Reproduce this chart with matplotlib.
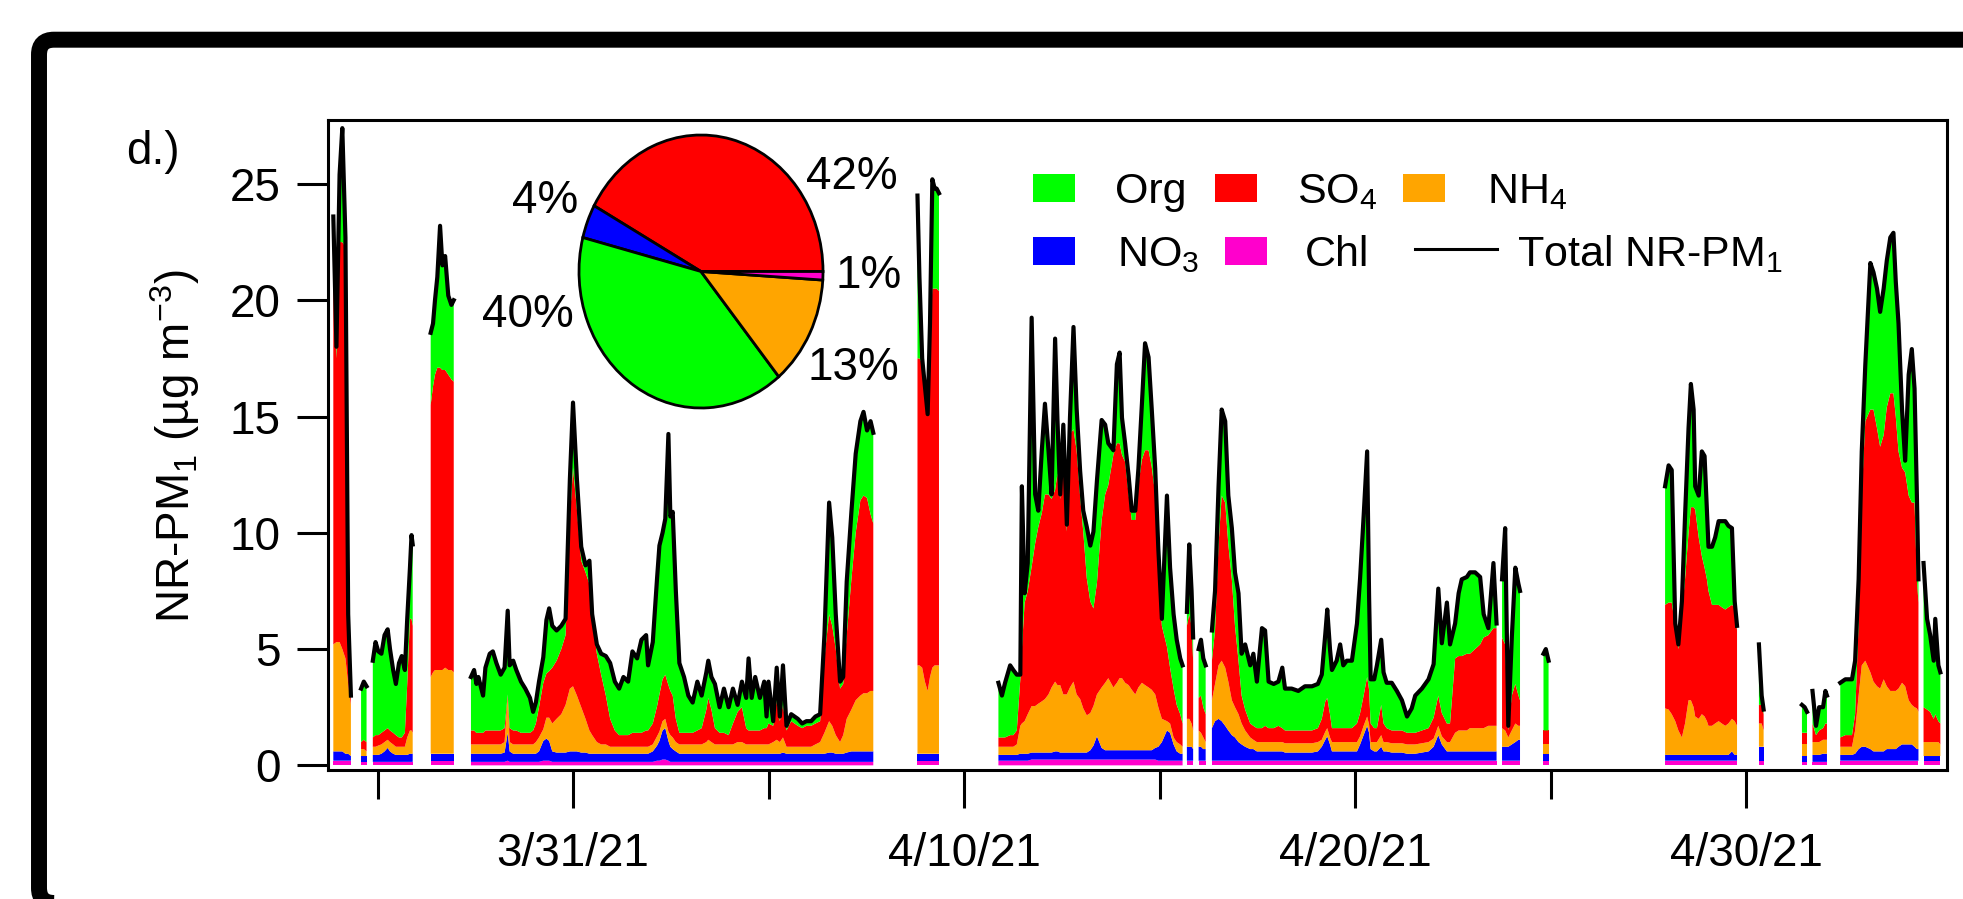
import numpy as np
import matplotlib
matplotlib.use('Agg')
import matplotlib.pyplot as plt
import matplotlib.dates as mdates
from matplotlib.patches import Rectangle, FancyBboxPatch
from matplotlib.lines import Line2D
from datetime import datetime

plt.rcParams['font.family'] = ['Liberation Sans', 'DejaVu Sans']
plt.rcParams['mathtext.fontset'] = 'custom'
plt.rcParams['mathtext.rm'] = 'Liberation Sans'
plt.rcParams['mathtext.it'] = 'Liberation Sans:italic'
plt.rcParams['mathtext.bf'] = 'Liberation Sans:bold'

# ---- data (days after 2021-03-24 00:00, ug m-3), one sub-list per run of valid data ----
start = datetime(2021, 3, 24)

time_d = [
    [0.87, 0.95, 1.03, 1.10, 1.18, 1.25, 1.32],
    [1.58, 1.65, 1.72],
    [1.88, 1.95, 2.02, 2.10, 2.18, 2.26, 2.32, 2.40, 2.47, 2.55, 2.62, 2.70, 2.76, 2.83, 2.87, 2.90],
    [3.36, 3.42, 3.47, 3.53, 3.60, 3.66, 3.73, 3.81, 3.89, 3.95],
    [4.39, 4.47, 4.53, 4.58, 4.70, 4.76, 4.87, 4.95, 5.04, 5.15,
     5.25, 5.33, 5.38, 5.47, 5.55, 5.67, 5.78, 5.90, 5.98, 6.05,
     6.13, 6.24, 6.32, 6.39, 6.47, 6.58, 6.70, 6.81, 6.92, 7.00,
     7.10, 7.21, 7.32, 7.42, 7.49, 7.61, 7.72, 7.84, 7.95, 8.07,
     8.18, 8.29, 8.41, 8.52, 8.64, 8.75, 8.87, 8.92, 9.04, 9.15,
     9.21, 9.29, 9.36, 9.44, 9.49, 9.55, 9.63, 9.72, 9.84, 9.95,
     10.06, 10.18, 10.29, 10.41, 10.46, 10.54, 10.63, 10.75, 10.86, 10.98,
     11.09, 11.21, 11.32, 11.43, 11.49, 11.57, 11.66, 11.78, 11.89, 11.95,
     12.00, 12.12, 12.21, 12.29, 12.37, 12.46, 12.58, 12.75, 12.86, 12.97,
     13.09, 13.20, 13.32, 13.43, 13.55, 13.63, 13.72, 13.83, 13.91, 14.00,
     14.12, 14.23, 14.35, 14.43, 14.52, 14.61, 14.68],
    [15.81, 15.86, 15.93, 16.00, 16.07, 16.13, 16.19, 16.25, 16.30, 16.36],
    [17.88, 17.97, 18.05, 18.18, 18.26, 18.35, 18.44, 18.48, 18.55, 18.63,
     18.73, 18.82, 18.90, 18.99, 19.07, 19.16, 19.24, 19.33, 19.39, 19.46,
     19.54, 19.63, 19.71, 19.80, 19.88, 19.97, 20.05, 20.14, 20.23, 20.31,
     20.40, 20.52, 20.61, 20.69, 20.82, 20.91, 20.98, 21.04, 21.12, 21.21,
     21.29, 21.38, 21.46, 21.55, 21.63, 21.72, 21.80, 21.89, 21.97, 22.06,
     22.19, 22.27, 22.36, 22.44, 22.53, 22.59],
    [22.70, 22.76, 22.82, 22.86],
    [23.00, 23.06, 23.12, 23.18],
    [23.34, 23.42, 23.51, 23.59, 23.68, 23.76, 23.85, 23.93, 24.02, 24.10,
     24.19, 24.32, 24.40, 24.49, 24.62, 24.70, 24.79, 24.92, 25.04, 25.14,
     25.21, 25.38, 25.55, 25.72, 25.90, 26.05, 26.15, 26.24, 26.29, 26.36,
     26.41, 26.53, 26.62, 26.70, 26.79, 26.92, 27.05, 27.13, 27.22, 27.31,
     27.36, 27.40, 27.49, 27.56, 27.67, 27.73, 27.81, 27.94, 28.07, 28.20,
     28.33, 28.45, 28.54, 28.71, 28.88, 29.01, 29.13, 29.22, 29.35, 29.43,
     29.56, 29.65, 29.73, 29.86, 29.94, 30.07, 30.20, 30.29, 30.41, 30.54,
     30.62],
    [30.76, 30.84, 30.92, 31.01, 31.10, 31.18, 31.22],
    [31.82, 31.88, 31.95],
    [34.93, 35.02, 35.10, 35.19, 35.27, 35.36, 35.44, 35.53, 35.59, 35.66,
     35.70, 35.79, 35.87, 35.94, 36.00, 36.04, 36.13, 36.21, 36.30, 36.38,
     36.47, 36.55, 36.64, 36.71, 36.77],
    [37.33, 37.40, 37.45],
    [38.43, 38.50, 38.56],
    [38.70, 38.79, 38.87, 38.97, 39.03, 39.07],
    [39.41, 39.54, 39.71, 39.79, 39.88, 39.96, 40.05, 40.18, 40.26, 40.35,
     40.43, 40.52, 40.60, 40.69, 40.77, 40.83, 40.90, 40.99, 41.07, 41.16,
     41.24, 41.31, 41.37, 41.41],
    [41.54, 41.63, 41.71, 41.80, 41.84, 41.92, 41.97],
]

org = [
    [1.6, 0.5, 2.9, 4.9, 0.4, 0.5, 0.2],
    [2.3, 2.5, 2.4],
    [3.3, 4.0, 3.6, 3.4, 4.1, 4.25, 3.5, 2.7, 2.2, 3.2, 3.5, 2.7, 2.8, 2.2, 3.6, 3.5],
    [3.1, 2.7, 3.2, 3.9, 6.1, 4.5, 4.9, 3.4, 3.2, 3.5],
    [2.3, 2.6, 2.1, 2.4, 1.6, 2.7, 3.3, 3.4, 2.9, 2.4,
     2.6, 3.6, 2.7, 3.0, 2.6, 2.2, 1.9, 1.5, 0.8, 0.9,
     1.1, 1.1, 2.3, 2.7, 1.8, 1.3, 1.0, 0.7, 1.8, 2.8,
     1.3, 0.6, 0.3, 1.0, 0.2, 0.4, 0.9, 1.7, 2.4, 2.1,
     2.0, 2.5, 2.3, 3.5, 3.2, 4.0, 4.1, 2.8, 3.5, 5.5,
     6.4, 6.3, 6.7, 10.8, 7.5, 7.9, 5.5, 3.0, 2.4, 1.6,
     1.3, 2.1, 1.4, 1.6, 1.6, 1.4, 1.9, 1.1, 1.9, 1.2,
     1.5, 0.3, 1.1, 1.3, 3.1, 1.4, 2.3, 1.4, 2.0, 0.5,
     1.8, 0.2, 1.4, 0.2, 1.7, 0.2, 0.3, 0.3, 0.2, 0.2,
     0.2, 0.3, 0.3, 1.0, 4.8, 3.8, 1.5, 0.3, 0.3, 2.3,
     2.9, 3.4, 3.4, 3.6, 2.9, 4.0, 3.9],
    [7.0, 3.5, 0.2, 0.3, 0.1, 0.5, 4.7, 4.3, 4.3, 4.2],
    [2.35, 1.8, 2.35, 3.0, 2.8, 2.4, 0.2, 7.0, 0.4, 1.2,
     10.7, 2.1, 0.7, 2.7, 3.9, 1.9, 0.2, 6.5, 2.3, 0.2,
     1.1, 0.3, 0.7, 4.4, 1.8, 1.1, 0.9, 2.2, 2.4, 3.3,
     4.4, 4.3, 3.0, 1.8, 0.2, 3.4, 3.9, 1.6, 0.8, 0.8,
     0.4, 0.4, 0.7, 2.4, 4.6, 4.0, 2.5, 1.1, 0.3, 0.3,
     6.5, 4.3, 3.2, 2.8, 2.4, 2.5],
    [0.6, 3.0, 1.5, 1.0],
    [2.1, 2.4, 2.1, 2.1],
    [1.3, 1.7, 2.5, 3.7, 3.5, 2.1, 2.2, 2.3, 2.9, 1.8,
     2.8, 2.5, 3.1, 2.0, 4.3, 4.1, 2.0, 1.9, 1.9, 2.6,
     1.8, 1.8, 1.7, 1.9, 1.9, 1.9, 1.9, 2.9, 3.8, 2.8,
     2.5, 2.9, 3.6, 2.7, 2.9, 2.9, 4.3, 5.8, 7.7, 9.7,
     4.0, 1.9, 2.1, 2.7, 2.8, 2.2, 1.95, 2.05, 1.7, 1.3,
     0.7, 1.05, 1.6, 1.8, 2.1, 2.3, 4.6, 3.0, 5.2, 3.4,
     1.5, 2.7, 3.3, 3.3, 3.5, 3.3, 2.9, 1.0, 0.3, 2.8,
     0.2],
    [2.5, 5.0, 0.2, 2.5, 5.0, 4.8, 4.7],
    [3.3, 3.5, 3.0],
    [5.1, 5.9, 5.7, 0.1, 0.2, 0.55, 2.7, 4.5, 5.3, 4.2,
     1.0, 1.8, 4.5, 4.8, 2.9, 1.9, 2.5, 2.9, 3.6, 3.7,
     3.8, 3.5, 3.3, 0.25, 0.2],
    [2.6, 0.4, 0.2],
    [1.2, 1.1, 0.9],
    [1.4, 0.4, 1.0, 0.9, 1.4, 1.2],
    [2.35, 2.4, 2.4, 2.3, 1.9, 1.9, 2.4, 6.3, 5.9, 6.0,
     5.8, 6.3, 6.3, 6.7, 6.9, 5.8, 5.5, 2.5, 0.5, 5.2,
     6.6, 4.9, 3.6, 1.0],
    [6.2, 3.9, 3.3, 2.5, 4.1, 2.4, 2.2],
]

so4 = [
    [16.8, 12.2, 17.2, 17.5, 17.7, 2.5, 0.2],
    [0.3, 0.4, 0.4],
    [0.4, 0.5, 0.45, 0.5, 0.5, 0.5, 0.5, 0.5, 0.5, 0.4, 0.4, 0.6, 2.3, 4.8, 4.8, 4.6],
    [11.7, 12.3, 12.7, 13.0, 13.0, 12.9, 12.8, 12.7, 12.5, 12.5],
    [0.6, 0.6, 0.5, 0.5, 0.5, 0.6, 0.6, 0.6, 0.6, 0.6,
     0.6, 0.1, 0.6, 0.6, 0.6, 0.5, 0.5, 0.5, 0.6, 0.8,
     1.3, 2.0, 1.9, 2.0, 2.4, 2.5, 2.8, 3.0, 7.2, 9.4,
     8.0, 6.3, 6.3, 6.3, 5.0, 3.8, 3.0, 2.1, 1.2, 0.7,
     0.5, 0.5, 0.5, 0.6, 0.6, 0.6, 0.7, 0.7, 0.9, 1.3,
     1.6, 1.8, 1.9, 2.0, 1.9, 1.8, 1.0, 0.5, 0.5, 0.5,
     0.5, 0.6, 0.7, 1.4, 1.8, 1.4, 0.7, 0.5, 0.5, 0.4,
     0.9, 1.3, 1.5, 0.7, 0.6, 0.6, 0.6, 0.6, 0.7, 0.7,
     0.9, 0.7, 1.7, 0.9, 1.4, 0.7, 1.1, 0.9, 0.8, 0.9,
     0.9, 0.9, 0.9, 3.2, 4.6, 4.3, 3.7, 2.3, 2.2, 3.6,
     5.6, 7.2, 8.4, 8.5, 8.4, 7.6, 7.2],
    [13.2, 13.2, 13.1, 12.4, 11.8, 14.7, 16.3, 16.2, 16.2, 16.1],
    [0.4, 0.4, 0.4, 0.5, 0.5, 0.6, 2.0, 3.2, 5.1, 5.3,
     6.0, 7.0, 7.6, 8.1, 8.8, 8.6, 8.1, 8.25, 9.1, 8.0,
     10.5, 7.0, 10.9, 10.85, 10.5, 8.7, 7.6, 5.9, 4.8, 4.2,
     4.8, 7.2, 8.1, 8.3, 10.0, 10.3, 10.1, 9.6, 9.5, 8.2,
     7.3, 7.5, 8.7, 9.6, 10.1, 10.2, 9.6, 8.6, 6.5, 4.0,
     3.2, 2.4, 2.1, 1.6, 1.3, 1.0],
    [4.0, 4.5, 4.2, 3.0],
    [1.4, 1.6, 1.3, 1.2],
    [1.7, 2.3, 5.2, 7.1, 7.1, 5.9, 5.2, 3.5, 2.3, 1.2,
     0.9, 0.6, 0.6, 0.6, 0.6, 0.7, 0.6, 0.6, 0.7, 0.6,
     0.55, 0.55, 0.55, 0.55, 0.55, 0.6, 0.9, 1.3, 1.3, 1.0,
     0.6, 0.6, 0.6, 0.6, 0.6, 0.6, 0.8, 1.0, 1.3, 1.7,
     1.5, 0.8, 0.6, 0.6, 1.3, 0.8, 0.6, 0.55, 0.55, 0.55,
     0.5, 0.5, 0.5, 0.55, 0.6, 0.9, 1.3, 1.0, 0.8, 0.8,
     3.2, 3.2, 3.2, 3.3, 3.2, 3.4, 3.6, 3.9, 3.9, 4.2,
     4.2],
    [3.9, 3.7, 0.3, 1.5, 1.7, 1.3, 1.1],
    [0.6, 0.6, 0.6],
    [4.45, 4.6, 4.8, 4.1, 3.5, 5.3, 6.2, 7.2, 8.3, 8.6,
     8.9, 7.8, 6.8, 6.4, 6.1, 5.8, 5.2, 5.1, 5.0, 5.0,
     5.0, 5.0, 4.9, 4.9, 4.1],
    [0.8, 0.8, 0.7],
    [0.5, 0.5, 0.5],
    [0.8, 0.3, 0.5, 0.5, 0.7, 0.7],
    [0.4, 0.5, 0.5, 0.7, 3.1, 7.3, 10.3, 11.3, 11.7, 11.1,
     10.4, 10.5, 12.0, 12.8, 12.8, 11.8, 10.2, 9.25, 9.2, 8.8,
     8.7, 8.8, 5.55, 4.7],
    [1.5, 1.4, 1.3, 1.0, 1.2, 0.9, 0.9],
]

nh4 = [
    [4.6, 4.7, 4.7, 4.4, 4.1, 3.0, 2.2],
    [0.3, 0.3, 0.2],
    [0.35, 0.35, 0.4, 0.4, 0.4, 0.35, 0.4, 0.4, 0.35, 0.35, 0.35, 0.35, 0.75, 1.0, 1.0, 0.9],
    [3.3, 3.5, 3.6, 3.6, 3.6, 3.6, 3.7, 3.6, 3.6, 3.5],
    [0.4, 0.4, 0.4, 0.4, 0.4, 0.4, 0.4, 0.4, 0.4, 0.4,
     0.45, 1.55, 0.4, 0.4, 0.4, 0.4, 0.4, 0.4, 0.4, 0.5,
     0.6, 0.5, 0.9, 1.0, 1.2, 1.45, 1.65, 2.05, 2.7, 2.8,
     2.4, 1.95, 1.45, 1.0, 0.8, 0.5, 0.4, 0.4, 0.3, 0.3,
     0.3, 0.3, 0.3, 0.3, 0.3, 0.3, 0.3, 0.3, 0.3, 0.4,
     0.4, 0.4, 0.4, 0.4, 0.5, 0.5, 0.4, 0.4, 0.4, 0.4,
     0.4, 0.4, 0.4, 0.5, 0.6, 0.5, 0.4, 0.4, 0.4, 0.4,
     0.4, 0.5, 0.5, 0.4, 0.4, 0.4, 0.4, 0.4, 0.4, 0.4,
     0.4, 0.5, 0.6, 0.5, 0.65, 0.3, 0.3, 0.3, 0.3, 0.3,
     0.3, 0.4, 0.5, 0.9, 1.35, 1.15, 0.8, 0.5, 0.8, 1.45,
     1.8, 2.2, 2.4, 2.5, 2.5, 2.6, 2.6],
    [3.8, 3.8, 3.7, 3.1, 2.7, 3.3, 3.7, 3.8, 3.8, 3.8],
    [0.35, 0.35, 0.35, 0.35, 0.35, 0.45, 1.2, 1.3, 1.4, 1.7,
     2.0, 2.0, 2.1, 2.2, 2.3, 2.5, 2.8, 3.0, 2.85, 2.9,
     2.5, 2.5, 2.8, 3.05, 2.5, 2.3, 1.9, 1.6, 1.6, 1.7,
     1.8, 2.6, 2.9, 3.1, 2.7, 2.9, 3.1, 3.1, 2.9, 2.8,
     2.6, 2.4, 2.7, 2.9, 2.8, 2.7, 2.6, 2.3, 1.7, 1.0,
     0.4, 0.4, 0.3, 0.4, 0.4, 0.3],
    [1.2, 1.2, 1.0, 0.8],
    [0.7, 0.6, 0.5, 0.3],
    [1.2, 1.6, 2.3, 2.6, 2.5, 2.1, 1.5, 1.3, 1.2, 0.9,
     0.7, 0.5, 0.4, 0.4, 0.4, 0.4, 0.4, 0.4, 0.4, 0.4,
     0.4, 0.4, 0.4, 0.4, 0.4, 0.4, 0.3, 0.35, 0.35, 0.3,
     0.4, 0.4, 0.4, 0.4, 0.4, 0.4, 0.4, 0.35, 0.4, 0.4,
     0.35, 0.3, 0.4, 0.4, 0.5, 0.4, 0.4, 0.4, 0.4, 0.4,
     0.4, 0.4, 0.4, 0.4, 0.4, 0.35, 0.4, 0.35, 0.4, 0.4,
     0.8, 0.9, 0.9, 0.9, 1.0, 1.0, 1.0, 1.0, 1.1, 1.1,
     1.1],
    [0.8, 0.7, 0.4, 0.6, 0.8, 0.6, 0.6],
    [0.4, 0.4, 0.4],
    [2.0, 1.95, 1.75, 1.45, 1.05, 0.75, 1.35, 2.35, 2.35, 2.05,
     1.65, 1.55, 1.75, 1.65, 1.45, 1.25, 1.25, 1.35, 1.45, 1.35,
     1.25, 1.35, 1.4, 1.45, 1.25],
    [1.0, 1.0, 0.7],
    [0.5, 0.5, 0.5],
    [0.55, 0.55, 0.55, 0.6, 0.6, 0.6],
    [0.35, 0.35, 0.35, 1.0, 2.3, 3.5, 3.7, 3.3, 3.0, 2.8,
     2.7, 3.1, 2.7, 2.5, 2.5, 2.5, 2.5, 2.65, 2.5, 1.9,
     1.7, 1.7, 1.75, 1.6],
    [0.6, 0.6, 0.6, 0.6, 0.6, 0.6, 0.5],
]

no3 = [
    [0.4, 0.4, 0.4, 0.4, 0.3, 0.3, 0.2],
    [0.25, 0.25, 0.25],
    [0.3, 0.3, 0.3, 0.35, 0.45, 0.6, 0.45, 0.35, 0.3, 0.3, 0.3, 0.3, 0.3, 0.35, 0.35, 0.35],
    [0.3, 0.3, 0.3, 0.3, 0.3, 0.3, 0.3, 0.3, 0.3, 0.3],
    [0.35, 0.35, 0.35, 0.35, 0.35, 0.35, 0.35, 0.35, 0.35, 0.35,
     0.4, 1.2, 0.45, 0.35, 0.35, 0.35, 0.35, 0.35, 0.35, 0.35,
     0.45, 0.85, 0.95, 0.85, 0.45, 0.4, 0.4, 0.4, 0.45, 0.45,
     0.45, 0.4, 0.4, 0.35, 0.35, 0.35, 0.35, 0.35, 0.35, 0.35,
     0.35, 0.35, 0.35, 0.35, 0.35, 0.35, 0.35, 0.35, 0.45, 0.65,
     0.85, 1.25, 1.35, 0.85, 0.65, 0.55, 0.45, 0.35, 0.35, 0.35,
     0.35, 0.35, 0.35, 0.35, 0.35, 0.35, 0.35, 0.35, 0.35, 0.35,
     0.35, 0.35, 0.35, 0.35, 0.35, 0.35, 0.35, 0.35, 0.35, 0.35,
     0.35, 0.35, 0.35, 0.35, 0.4, 0.35, 0.35, 0.35, 0.35, 0.35,
     0.35, 0.35, 0.35, 0.35, 0.4, 0.4, 0.35, 0.35, 0.35, 0.4,
     0.45, 0.45, 0.45, 0.45, 0.45, 0.45, 0.45],
    [0.3, 0.3, 0.3, 0.3, 0.3, 0.3, 0.3, 0.3, 0.3, 0.3],
    [0.25, 0.25, 0.25, 0.25, 0.25, 0.25, 0.3, 0.3, 0.3, 0.3,
     0.3, 0.3, 0.3, 0.3, 0.3, 0.3, 0.3, 0.35, 0.35, 0.3,
     0.3, 0.3, 0.3, 0.3, 0.3, 0.3, 0.3, 0.3, 0.4, 0.6,
     1.0, 0.5, 0.4, 0.4, 0.4, 0.4, 0.4, 0.4, 0.4, 0.4,
     0.4, 0.4, 0.4, 0.4, 0.4, 0.4, 0.4, 0.5, 0.6, 0.8,
     1.3, 1.2, 0.7, 0.4, 0.3, 0.3],
    [0.6, 0.6, 0.6, 0.5],
    [0.6, 0.6, 0.5, 0.5],
    [1.4, 1.7, 1.8, 1.7, 1.5, 1.3, 1.1, 1.0, 0.8, 0.7,
     0.6, 0.5, 0.5, 0.4, 0.4, 0.4, 0.4, 0.4, 0.4, 0.4,
     0.35, 0.35, 0.35, 0.35, 0.35, 0.4, 0.6, 0.9, 1.05, 0.7,
     0.4, 0.4, 0.4, 0.4, 0.4, 0.4, 0.4, 0.7, 1.1, 1.5,
     1.2, 0.5, 0.4, 0.4, 0.6, 0.4, 0.4, 0.35, 0.35, 0.35,
     0.3, 0.3, 0.3, 0.35, 0.4, 0.6, 1.1, 0.7, 0.4, 0.4,
     0.4, 0.4, 0.4, 0.4, 0.4, 0.4, 0.4, 0.4, 0.4, 0.4,
     0.4],
    [0.6, 0.6, 0.6, 0.7, 0.8, 0.9, 0.9],
    [0.3, 0.3, 0.3],
    [0.25, 0.25, 0.25, 0.25, 0.25, 0.25, 0.25, 0.25, 0.25, 0.25,
     0.25, 0.25, 0.25, 0.25, 0.25, 0.25, 0.25, 0.25, 0.25, 0.25,
     0.25, 0.25, 0.4, 0.25, 0.25],
    [0.6, 0.6, 0.6],
    [0.25, 0.25, 0.25],
    [0.3, 0.3, 0.3, 0.35, 0.35, 0.35],
    [0.25, 0.25, 0.25, 0.3, 0.5, 0.6, 0.6, 0.5, 0.4, 0.4,
     0.4, 0.4, 0.5, 0.5, 0.5, 0.5, 0.6, 0.7, 0.7, 0.7,
     0.7, 0.6, 0.5, 0.5],
    [0.2, 0.2, 0.2, 0.2, 0.2, 0.2, 0.2],
]

chl = [
    [0.2, 0.2, 0.2, 0.2, 0.2, 0.2, 0.2],
    [0.15, 0.15, 0.15],
    [0.15, 0.15, 0.15, 0.15, 0.15, 0.15, 0.15, 0.15, 0.15, 0.15, 0.15, 0.15, 0.15, 0.15, 0.15, 0.15],
    [0.2, 0.2, 0.2, 0.2, 0.2, 0.2, 0.2, 0.2, 0.2, 0.2],
    [0.15, 0.15, 0.15, 0.15, 0.15, 0.15, 0.15, 0.15, 0.15, 0.15,
     0.15, 0.2, 0.15, 0.15, 0.15, 0.15, 0.15, 0.15, 0.15, 0.15,
     0.15, 0.2, 0.2, 0.2, 0.15, 0.15, 0.15, 0.15, 0.15, 0.15,
     0.15, 0.15, 0.15, 0.15, 0.15, 0.15, 0.15, 0.15, 0.15, 0.15,
     0.15, 0.15, 0.15, 0.15, 0.15, 0.15, 0.15, 0.15, 0.15, 0.2,
     0.2, 0.25, 0.25, 0.2, 0.15, 0.15, 0.15, 0.15, 0.15, 0.15,
     0.15, 0.15, 0.15, 0.15, 0.15, 0.15, 0.15, 0.15, 0.15, 0.15,
     0.15, 0.15, 0.15, 0.15, 0.15, 0.15, 0.15, 0.15, 0.15, 0.15,
     0.15, 0.15, 0.15, 0.15, 0.15, 0.15, 0.15, 0.15, 0.15, 0.15,
     0.15, 0.15, 0.15, 0.15, 0.15, 0.15, 0.15, 0.15, 0.15, 0.15,
     0.15, 0.15, 0.15, 0.15, 0.15, 0.15, 0.15],
    [0.2, 0.2, 0.2, 0.2, 0.2, 0.2, 0.2, 0.2, 0.2, 0.2],
    [0.2, 0.2, 0.2, 0.2, 0.2, 0.2, 0.2, 0.2, 0.2, 0.2,
     0.25, 0.25, 0.25, 0.25, 0.25, 0.25, 0.25, 0.25, 0.25, 0.25,
     0.25, 0.25, 0.25, 0.25, 0.25, 0.25, 0.25, 0.25, 0.25, 0.25,
     0.25, 0.25, 0.25, 0.25, 0.25, 0.25, 0.25, 0.25, 0.25, 0.25,
     0.25, 0.25, 0.25, 0.25, 0.25, 0.25, 0.25, 0.25, 0.2, 0.2,
     0.2, 0.2, 0.2, 0.2, 0.2, 0.2],
    [0.2, 0.2, 0.2, 0.2],
    [0.2, 0.2, 0.2, 0.2],
    [0.2, 0.2, 0.2, 0.2, 0.2, 0.2, 0.2, 0.2, 0.2, 0.2,
     0.2, 0.2, 0.2, 0.2, 0.2, 0.2, 0.2, 0.2, 0.2, 0.2,
     0.2, 0.2, 0.2, 0.2, 0.2, 0.2, 0.2, 0.2, 0.2, 0.2,
     0.2, 0.2, 0.2, 0.2, 0.2, 0.2, 0.2, 0.2, 0.2, 0.2,
     0.2, 0.2, 0.2, 0.2, 0.2, 0.2, 0.2, 0.2, 0.2, 0.2,
     0.2, 0.2, 0.2, 0.2, 0.2, 0.2, 0.2, 0.2, 0.2, 0.2,
     0.2, 0.2, 0.2, 0.2, 0.2, 0.2, 0.2, 0.2, 0.2, 0.2,
     0.2],
    [0.2, 0.2, 0.2, 0.2, 0.2, 0.2, 0.2],
    [0.2, 0.2, 0.2],
    [0.2, 0.2, 0.2, 0.2, 0.2, 0.2, 0.2, 0.2, 0.2, 0.2,
     0.2, 0.2, 0.2, 0.2, 0.2, 0.2, 0.2, 0.2, 0.2, 0.2,
     0.2, 0.2, 0.2, 0.2, 0.2],
    [0.2, 0.2, 0.2],
    [0.15, 0.15, 0.15],
    [0.15, 0.15, 0.15, 0.15, 0.15, 0.15],
    [0.2, 0.2, 0.2, 0.2, 0.2, 0.2, 0.2, 0.2, 0.2, 0.2,
     0.2, 0.2, 0.2, 0.2, 0.2, 0.2, 0.2, 0.2, 0.2, 0.2,
     0.2, 0.2, 0.2, 0.2],
    [0.2, 0.2, 0.2, 0.2, 0.2, 0.2, 0.2],
]

# campaign mean composition (pie, counter-clockwise from 3 o'clock)
pie_names = ['SO4', 'NO3', 'Org', 'NH4', 'Chl']
pie_pct = [42, 4, 40, 13, 1]

colors = {'Org': '#00FF00', 'SO4': '#FF0000', 'NH4': '#FFA500',
          'NO3': '#0000FF', 'Chl': '#FF00CC'}


def join(segs):
    # glue the runs together with a NaN so fills and the line break at the gaps
    out = []
    for s in segs:
        out.extend(s)
        out.append(np.nan)
    return np.array(out[:-1], dtype=float)


for name, arr in [('org', org), ('so4', so4), ('nh4', nh4), ('no3', no3), ('chl', chl)]:
    for i, (a, b) in enumerate(zip(time_d, arr)):
        assert len(a) == len(b), (name, i, len(a), len(b))

t0 = mdates.date2num(start)
t = t0 + join(time_d)
c1 = join(chl)
c2 = c1 + join(no3)
c3 = c2 + join(nh4)
c4 = c3 + join(so4)
c5 = c4 + join(org)

# ---- figure ----
W, H = 1963, 899
fig = plt.figure(figsize=(W / 100, H / 100), dpi=100)

# thick rounded border of the panel (right side runs off the picture)
frame = FancyBboxPatch((0.39, -0.04), 20.2, 8.633,
                       boxstyle='round,pad=0,rounding_size=0.15',
                       transform=fig.dpi_scale_trans, fill=False,
                       edgecolor='black', linewidth=11.5)
fig.add_artist(frame)

ax = fig.add_axes([328 / W, 1 - 770 / H, (1947 - 328) / W, (770 - 120) / H])

ax.fill_between(t, 0, c1, color=colors['Chl'], lw=0)
ax.fill_between(t, c1, c2, color=colors['NO3'], lw=0)
ax.fill_between(t, c2, c3, color=colors['NH4'], lw=0)
ax.fill_between(t, c3, c4, color=colors['SO4'], lw=0)
ax.fill_between(t, c4, c5, color=colors['Org'], lw=0)
ax.plot(t, c5, color='black', lw=3.0)

ax.set_xlim(t0 + 0.734, t0 + 42.14)
ax.set_ylim(-0.2, 27.75)

major_days = [datetime(2021, 3, 31), datetime(2021, 4, 10), datetime(2021, 4, 20), datetime(2021, 4, 30)]
minor_days = [datetime(2021, 3, 26), datetime(2021, 4, 5), datetime(2021, 4, 15), datetime(2021, 4, 25)]
ax.xaxis.set_major_locator(matplotlib.ticker.FixedLocator(mdates.date2num(major_days)))
ax.xaxis.set_minor_locator(matplotlib.ticker.FixedLocator(mdates.date2num(minor_days)))
ax.xaxis.set_major_formatter(mdates.DateFormatter('%-m/%d/%y'))
ax.set_yticks([0, 5, 10, 15, 20, 25])

for sp in ax.spines.values():
    sp.set_linewidth(2.2)
ax.tick_params(axis='x', which='major', direction='out', length=27, width=2.2,
               labelsize=33, pad=18)
ax.tick_params(axis='x', which='minor', direction='out', length=21, width=2.2)
ax.tick_params(axis='y', which='major', direction='out', length=22, width=2.2,
               labelsize=33, pad=12)

ax.set_ylabel(r'NR-PM$_1$ (µg m$^{-3}$)', fontsize=33)
ax.yaxis.set_label_coords(-0.078, 0.4985)

fig.text(153 / W, 1 - 152 / H, 'd.)', fontsize=33, ha='center', va='center')

# ---- legend (drawn by hand to match the two-row layout) ----
def px_x(x):
    return (x - 328) / 1619


def px_y(y):
    return (770 - y) / 650


sq_h = px_y(174) - px_y(202)
row1 = [('Org', 'Org', 1033, 1115), ('SO4', r'SO$_4$', 1215, 1297), ('NH4', r'NH$_4$', 1403, 1487)]
row2 = [('NO3', r'NO$_3$', 1033, 1117), ('Chl', 'Chl', 1225, 1305)]
for key, lab, xs, xt in row1:
    ax.add_patch(Rectangle((px_x(xs), px_y(202)), px_x(xs + 42) - px_x(xs), sq_h,
                           transform=ax.transAxes, facecolor=colors[key], edgecolor='none'))
    ax.text(px_x(xt), px_y(203), lab, transform=ax.transAxes, fontsize=31,
            ha='left', va='baseline')
for key, lab, xs, xt in row2:
    ax.add_patch(Rectangle((px_x(xs), px_y(265)), px_x(xs + 42) - px_x(xs), sq_h,
                           transform=ax.transAxes, facecolor=colors[key], edgecolor='none'))
    ax.text(px_x(xt), px_y(266), lab, transform=ax.transAxes, fontsize=31,
            ha='left', va='baseline')
ax.add_line(Line2D([px_x(1415), px_x(1497)], [px_y(249), px_y(249)],
                   transform=ax.transAxes, color='black', lw=2.2))
ax.text(px_x(1517), px_y(266), r'Total NR-PM$_1$', transform=ax.transAxes,
        fontsize=31, ha='left', va='baseline')

# ---- pie inset ----
axp = fig.add_axes([579 / W, 1 - 408 / H, 244 / W, 273 / H])
wedges, _ = axp.pie(pie_pct, colors=[colors[n] for n in pie_names], startangle=0,
                    counterclock=True,
                    wedgeprops=dict(edgecolor='black', linewidth=2.0))
for w in wedges:
    w.set_clip_on(False)
axp.set_aspect('auto')
axp.set_xlim(-1, 1)
axp.set_ylim(-1, 1)
axp.axis('off')

pie_label_pos = {'SO4': (1.24, 0.69), 'Chl': (1.37, -0.03), 'NH4': (1.25, -0.71),
                 'NO3': (-1.28, 0.52), 'Org': (-1.42, -0.32)}
for n, p in zip(pie_names, pie_pct):
    x, y = pie_label_pos[n]
    axp.text(x, y, f'{p}%', fontsize=33, ha='center', va='center', clip_on=False)

fig.savefig('out.png', dpi=100)
